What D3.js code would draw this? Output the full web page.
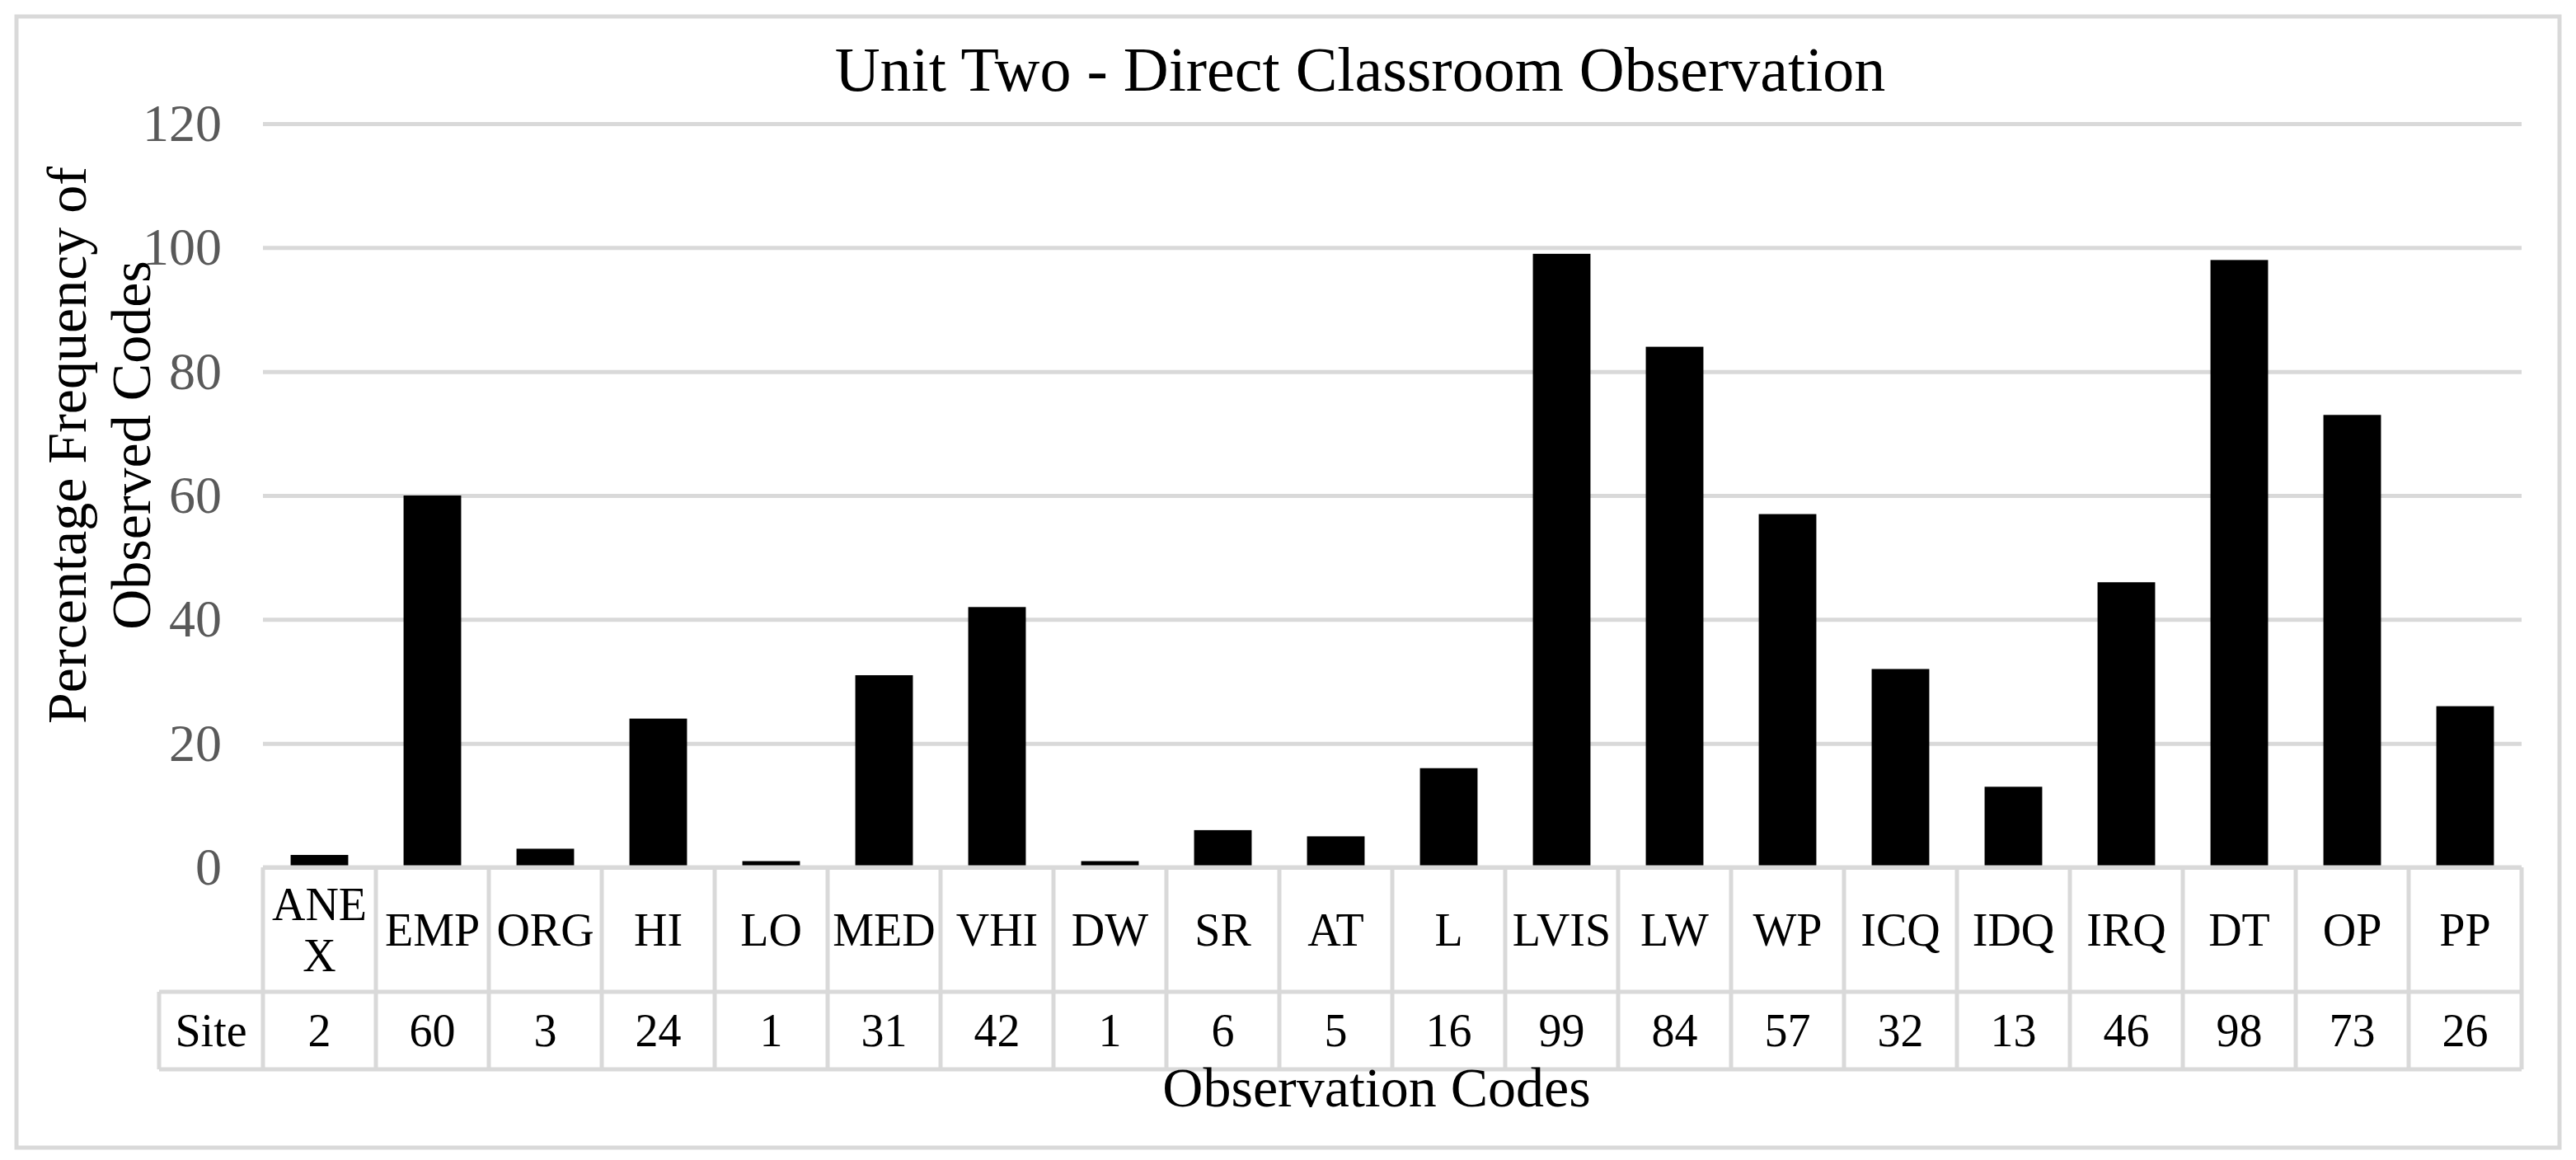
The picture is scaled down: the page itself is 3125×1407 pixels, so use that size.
<!DOCTYPE html>
<html>
<head>
<meta charset="utf-8">
<script src="https://cdn.jsdelivr.net/npm/d3@7"></script>
<style>
  body { margin: 0; background: #fff; }
  text { font-family: "Liberation Serif", "Times New Roman", serif; }
</style>
</head>
<body>
<div id="chartbox"></div>
<script>
const codes = ['ANEX', 'EMP', 'ORG', 'HI', 'LO', 'MED', 'VHI', 'DW', 'SR', 'AT', 'L', 'LVIS', 'LW', 'WP', 'ICQ', 'IDQ', 'IRQ', 'DT', 'OP', 'PP']
const site = [2, 60, 3, 24, 1, 31, 42, 1, 6, 5, 16, 99, 84, 57, 32, 13, 46, 98, 73, 26]
const yTicks = [0, 20, 40, 60, 80, 100, 120]

const W = 3125, H = 1407
const grid = '#d9d9d9'
const m = { left: 319, right: 3059, top: 150, bottom: 1052 }

const svg = d3.select('#chartbox')
  .append('svg')
  .attr('width', W)
  .attr('height', H)

svg.append('rect')
  .attr('x', 20).attr('y', 20)
  .attr('width', 3085).attr('height', 1372)
  .attr('fill', 'white')
  .attr('stroke', grid)
  .attr('stroke-width', 5)

const x = d3.scaleBand()
  .domain(codes)
  .range([m.left, m.right])
  .paddingInner(0.49)
  .paddingOuter(0.245)

const cols = d3.scaleBand().domain(codes).range([m.left, m.right])

const y = d3.scaleLinear()
  .domain([0, 120])
  .range([m.bottom, m.top])

// gridlines + tick labels
const yAxis = svg.append('g')
  .attr('transform', `translate(${m.left},0)`)
  .call(d3.axisLeft(y).tickValues(yTicks).tickSize(-(m.right - m.left)).tickPadding(50))
yAxis.select('.domain').remove()
yAxis.selectAll('line').attr('stroke', grid).attr('stroke-width', 5)
yAxis.selectAll('text')
  .attr('fill', '#595959')
  .style('font-size', '64px')
  .style('font-family', '"Liberation Serif", serif')

svg.selectAll('.bar')
  .data(codes)
  .enter()
  .append('rect')
  .attr('class', 'bar')
  .attr('x', d => x(d))
  .attr('width', x.bandwidth())
  .attr('y', (d, i) => y(site[i]))
  .attr('height', (d, i) => y(0) - y(site[i]))
  .attr('fill', 'black')

// data table
const row1 = [m.bottom, 1203], row2 = [1203, 1297]
const tbl = svg.append('g')
  .attr('stroke', grid)
  .attr('stroke-width', 5)
  .attr('fill', 'none')
tbl.append('line').attr('x1', m.left).attr('x2', m.right).attr('y1', row1[0]).attr('y2', row1[0])
tbl.append('line').attr('x1', 193).attr('x2', m.right).attr('y1', row2[0]).attr('y2', row2[0])
tbl.append('line').attr('x1', 193).attr('x2', m.right).attr('y1', row2[1]).attr('y2', row2[1])
tbl.append('line').attr('x1', 193).attr('x2', 193).attr('y1', row2[0]).attr('y2', row2[1])
tbl.selectAll('.vl')
  .data(codes.concat(['end']))
  .enter()
  .append('line')
  .attr('x1', d => d === 'end' ? m.right : cols(d))
  .attr('x2', d => d === 'end' ? m.right : cols(d))
  .attr('y1', row1[0])
  .attr('y2', row2[1])

const fs = 56
const catText = svg.selectAll('.cat')
  .data(codes)
  .enter()
  .append('text')
  .attr('class', 'cat')
  .attr('text-anchor', 'middle')
  .style('font-size', fs + 'px')

catText.each(function (d) {
  const t = d3.select(this)
  const cx = cols(d) + cols.bandwidth() / 2
  t.text(d)
  let lines = [d]
  if (this.getComputedTextLength() > cols.bandwidth() - 4) {
    lines = [d.slice(0, d.length - 1), d.slice(-1)]
  }
  t.text(null)
  const mid = (row1[0] + row1[1]) / 2
  const lh = 62
  lines.forEach((l, i) => {
    t.append('tspan')
      .attr('x', cx)
      .attr('y', mid + (i - (lines.length - 1) / 2) * lh + 19)
      .text(l)
  })
})

svg.selectAll('.val')
  .data(codes)
  .enter()
  .append('text')
  .attr('text-anchor', 'middle')
  .attr('x', d => cols(d) + cols.bandwidth() / 2)
  .attr('y', (row2[0] + row2[1]) / 2 + 19)
  .style('font-size', fs + 'px')
  .text((d, i) => site[i])

svg.append('text')
  .attr('text-anchor', 'middle')
  .attr('x', (193 + m.left) / 2)
  .attr('y', (row2[0] + row2[1]) / 2 + 19)
  .style('font-size', fs + 'px')
  .text('Site')

svg.append('text')
  .attr('text-anchor', 'middle')
  .attr('x', 1670)
  .attr('y', 1342)
  .style('font-size', '68px')
  .text('Observation Codes')

svg.append('text')
  .attr('text-anchor', 'middle')
  .attr('x', 1650)
  .attr('y', 110)
  .style('font-size', '76px')
  .text('Unit Two - Direct Classroom Observation')

const yt = svg.append('text')
  .attr('text-anchor', 'middle')
  .attr('transform', 'translate(0,540) rotate(-90)')
  .style('font-size', '68px')
yt.append('tspan').attr('x', 0).attr('y', 104).text('Percentage Frequency of')
yt.append('tspan').attr('x', 0).attr('y', 182).text('Observed Codes')
</script>
</body>
</html>
